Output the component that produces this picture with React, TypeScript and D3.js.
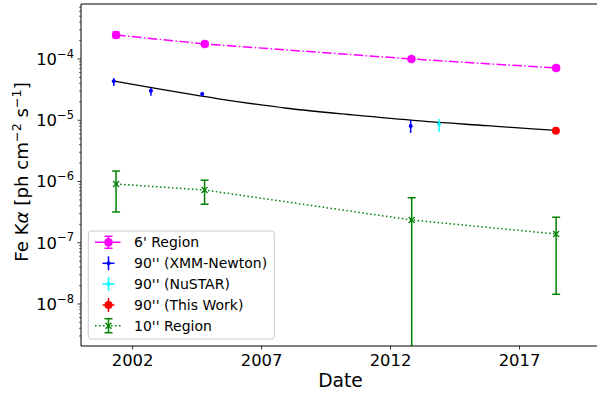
import React from "react";
import * as d3 from "d3";

// ---- Data ----
// 6' Region
const sixYears = [2001.36, 2004.8, 2012.81, 2018.42];
const sixVals = [2.47e-4, 1.76e-4, 1.0e-4, 7.13e-5];
const sixLo = [2.2e-4, 1.61e-4, 0.93e-4, 6.5e-5];
const sixHi = [2.76e-4, 1.93e-4, 1.08e-4, 7.8e-5];

// 90'' XMM-Newton
const xmmYears = [2001.27, 2002.71, 2004.7, 2012.78];
const xmmVals = [4.33e-5, 3.03e-5, 2.69e-5, 8.05e-6];
const xmmLo = [3.62e-5, 2.52e-5, 2.49e-5, 6.19e-6];
const xmmHi = [4.9e-5, 3.4e-5, 2.89e-5, 1.01e-5];

// 90'' NuSTAR
const nuYears = [2013.88];
const nuVals = [8.59e-6];
const nuLo = [6.43e-6];
const nuHi = [1.05e-5];

// 90'' This Work
const thisYears = [2018.41];
const thisVals = [6.76e-6];

// Fit curve through the 90'' points
const fitYears = [2001.24, 2005.39, 2007.98, 2010.54, 2013.14, 2015.74, 2018.41];
const fitVals = [4.38e-5, 2.22e-5, 1.57e-5, 1.22e-5, 9.73e-6, 8.15e-6, 6.81e-6];

// 10'' Region
const tenYears = [2001.36, 2004.79, 2012.82, 2018.42];
const tenVals = [9.1e-7, 7.26e-7, 2.35e-7, 1.39e-7];
const tenLo = [3.18e-7, 4.25e-7, 1e-12, 1.44e-8];
const tenHi = [1.48e-6, 1.05e-6, 5.43e-7, 2.61e-7];

const xTicks = [2002, 2007, 2012, 2017];
const yTickExps = [-4, -5, -6, -7, -8];
const legendLabels = ["6' Region", "90'' (XMM-Newton)", "90'' (NuSTAR)", "90'' (This Work)", "10'' Region"];

const W = 597;
const H = 394;
const L = 81, R = 600, T = 4, B = 346;
const FONT = "DejaVu Sans, sans-serif";

export default function App() {
  const x = d3.scaleLinear().domain([2000, 2020.12]).range([L, R]);
  const y = d3.scaleLog().domain([Math.pow(10, -8.686), Math.pow(10, -3.102)]).range([B, T]);

  const line = d3
    .line<[number, number]>()
    .x((d) => x(d[0]))
    .y((d) => y(d[1]));
  const smooth = d3
    .line<[number, number]>()
    .x((d) => x(d[0]))
    .y((d) => y(d[1]))
    .curve(d3.curveMonotoneX);

  const zip = (a: number[], b: number[]) => a.map((v, i) => [v, b[i]] as [number, number]);

  // minor ticks
  const minor: number[] = [];
  for (let e = -9; e <= -3; e++) {
    for (let k = 2; k <= 9; k++) {
      const v = k * Math.pow(10, e);
      const py = y(v);
      if (py >= T && py <= B) minor.push(py);
    }
  }

  const cap = (cx: number, cy: number, hw: number, color: string, sw: number) => (
    <line x1={cx - hw} x2={cx + hw} y1={cy} y2={cy} stroke={color} strokeWidth={sw} />
  );

  const legendRows = [242.3, 263.3, 284, 305, 325.7];
  const hx = 108.5;

  return (
    <svg width={W} height={H} style={{ position: "absolute", left: 0, top: 0 }} fontFamily={FONT}>
      <defs>
        <clipPath id="plot">
          <rect x={L} y={T} width={R - L} height={B - T} />
        </clipPath>
      </defs>
      <rect x={0} y={0} width={W} height={H} fill="white" />

      <g clipPath="url(#plot)">
        {/* 6' region */}
        <path d={line(zip(sixYears, sixVals)) || ""} fill="none" stroke="#ff00ff" strokeWidth={1.5} strokeDasharray="9.6,2.4,1.5,2.4" />
        {sixYears.map((yr, i) => (
          <g key={"s" + i}>
            <line x1={x(yr)} x2={x(yr)} y1={y(sixLo[i])} y2={y(sixHi[i])} stroke="#ff00ff" strokeWidth={1.5} />
            {cap(x(yr), y(sixLo[i]), 3.5, "#ff00ff", 1.5)}
            {cap(x(yr), y(sixHi[i]), 3.5, "#ff00ff", 1.5)}
            <circle cx={x(yr)} cy={y(sixVals[i])} r={4.3} fill="#ff00ff" />
          </g>
        ))}

        {/* fit curve */}
        <path d={smooth(zip(fitYears, fitVals)) || ""} fill="none" stroke="black" strokeWidth={1.3} />

        {/* XMM */}
        {xmmYears.map((yr, i) => (
          <g key={"x" + i}>
            <line x1={x(yr)} x2={x(yr)} y1={y(xmmLo[i])} y2={y(xmmHi[i])} stroke="#0000ff" strokeWidth={1.5} />
            <line x1={x(yr) - 1.5} x2={x(yr) + 1.5} y1={y(xmmVals[i])} y2={y(xmmVals[i])} stroke="#0000ff" strokeWidth={1.5} />
            <circle cx={x(yr)} cy={y(xmmVals[i])} r={2} fill="#0000ff" />
          </g>
        ))}

        {/* NuSTAR */}
        {nuYears.map((yr, i) => (
          <g key={"n" + i}>
            <line x1={x(yr)} x2={x(yr)} y1={y(nuLo[i])} y2={y(nuHi[i])} stroke="#00ffff" strokeWidth={1.5} />
            <line x1={x(yr) - 2} x2={x(yr) + 2} y1={y(nuVals[i])} y2={y(nuVals[i])} stroke="#00ffff" strokeWidth={1.5} />
            <circle cx={x(yr)} cy={y(nuVals[i])} r={1.8} fill="#00ffff" />
          </g>
        ))}

        {/* This work */}
        {thisYears.map((yr, i) => (
          <circle key={"t" + i} cx={x(yr)} cy={y(thisVals[i])} r={4} fill="#ff0000" />
        ))}

        {/* 10'' region */}
        <path d={line(zip(tenYears, tenVals)) || ""} fill="none" stroke="#008000" strokeWidth={1.5} strokeDasharray="1.5,2.5" />
        {tenYears.map((yr, i) => {
          const cx = x(yr);
          const cy = y(tenVals[i]);
          const s = 3;
          return (
            <g key={"g" + i}>
              <line x1={cx} x2={cx} y1={y(tenLo[i])} y2={y(tenHi[i])} stroke="#008000" strokeWidth={1.5} />
              {cap(cx, y(tenLo[i]), 4, "#008000", 1.5)}
              {cap(cx, y(tenHi[i]), 4, "#008000", 1.5)}
              <path d={`M${cx - s},${cy - s}L${cx + s},${cy + s}M${cx - s},${cy + s}L${cx + s},${cy - s}`} stroke="#008000" strokeWidth={1.3} />
            </g>
          );
        })}
      </g>

      {/* axes spines (right spine lies outside the picture) */}
      <line x1={L} x2={L} y1={T} y2={B} stroke="black" strokeWidth={1} />
      <line x1={L} x2={W} y1={T} y2={T} stroke="black" strokeWidth={1} />
      <line x1={L} x2={W} y1={B} y2={B} stroke="black" strokeWidth={1} />

      {/* y ticks */}
      {minor.map((py, i) => (
        <line key={"m" + i} x1={L - 2} x2={L} y1={py} y2={py} stroke="black" strokeWidth={0.6} />
      ))}
      {yTickExps.map((e) => {
        const py = y(Math.pow(10, e));
        return (
          <g key={"y" + e}>
            <line x1={L - 3.5} x2={L} y1={py} y2={py} stroke="black" strokeWidth={0.8} />
            <text x={L - 7} y={py + 6} textAnchor="end" fontSize={16.4} fill="#000">
              10
              <tspan fontSize={11.5} dy={-7.4}>{"\u2212" + Math.abs(e)}</tspan>
            </text>
          </g>
        );
      })}

      {/* x ticks */}
      {xTicks.map((t) => (
        <g key={"xt" + t}>
          <line x1={x(t)} x2={x(t)} y1={B} y2={B + 3.5} stroke="black" strokeWidth={0.8} />
          <text x={x(t)} y={366} textAnchor="middle" fontSize={16.4} fill="#000">
            {t}
          </text>
        </g>
      ))}

      {/* axis labels */}
      <text x={(L + R) / 2} y={387} textAnchor="middle" fontSize={18.7} fill="#000">
        Date
      </text>
      <text transform={`translate(28,172) rotate(-90)`} textAnchor="middle" fontSize={18.2} fill="#000">
        Fe K<tspan fontStyle="italic">α</tspan> [ph cm<tspan fontSize={12.7} dy={-7.5}>{"\u22122"}</tspan>
        <tspan dy={7.5}> s</tspan>
        <tspan fontSize={12.7} dy={-7.5}>{"\u22121"}</tspan>
        <tspan dy={7.5}>]</tspan>
      </text>

      {/* legend */}
      <rect x={88.3} y={231} width={186} height={108} rx={3} fill="white" fillOpacity={0.8} stroke="#cccccc" strokeWidth={1} />
      {/* 6' */}
      <g>
        <line x1={95} x2={122} y1={legendRows[0]} y2={legendRows[0]} stroke="#ff00ff" strokeWidth={1.5} strokeDasharray="9.6,2.4,1.5,2.4" />
        <line x1={hx} x2={hx} y1={legendRows[0] - 6} y2={legendRows[0] + 6} stroke="#ff00ff" strokeWidth={1.5} />
        {cap(hx, legendRows[0] - 6, 4, "#ff00ff", 1.5)}
        {cap(hx, legendRows[0] + 6, 4, "#ff00ff", 1.5)}
        <circle cx={hx} cy={legendRows[0]} r={4.3} fill="#ff00ff" />
      </g>
      {/* 90'' handles */}
      {[
        ["#0000ff", 1],
        ["#00ffff", 2],
        ["#ff0000", 3],
      ].map(([c, idx]) => {
        const ry = legendRows[idx as number];
        return (
          <g key={"lg" + idx}>
            <line x1={hx} x2={hx} y1={ry - 7} y2={ry + 7} stroke={c as string} strokeWidth={1.5} />
            <line x1={hx - 6} x2={hx + 6} y1={ry} y2={ry} stroke={c as string} strokeWidth={1.5} />
            {idx === 3 ? <circle cx={hx} cy={ry} r={4} fill="#ff0000" /> : <circle cx={hx} cy={ry} r={2} fill={c as string} />}
          </g>
        );
      })}
      {/* 10'' */}
      <g>
        <line x1={95} x2={122} y1={legendRows[4]} y2={legendRows[4]} stroke="#008000" strokeWidth={1.5} strokeDasharray="1.5,2.5" />
        <line x1={hx} x2={hx} y1={legendRows[4] - 7} y2={legendRows[4] + 7} stroke="#008000" strokeWidth={1.5} />
        {cap(hx, legendRows[4] - 7, 4, "#008000", 1.5)}
        {cap(hx, legendRows[4] + 7, 4, "#008000", 1.5)}
        <path
          d={`M${hx - 3},${legendRows[4] - 3}L${hx + 3},${legendRows[4] + 3}M${hx - 3},${legendRows[4] + 3}L${hx + 3},${legendRows[4] - 3}`}
          stroke="#008000"
          strokeWidth={1.3}
        />
      </g>
      {legendLabels.map((lab, i) => (
        <text key={"lt" + i} x={134} y={legendRows[i] + 5} fontSize={14} fill="#000">
          {lab}
        </text>
      ))}
    </svg>
  );
}
